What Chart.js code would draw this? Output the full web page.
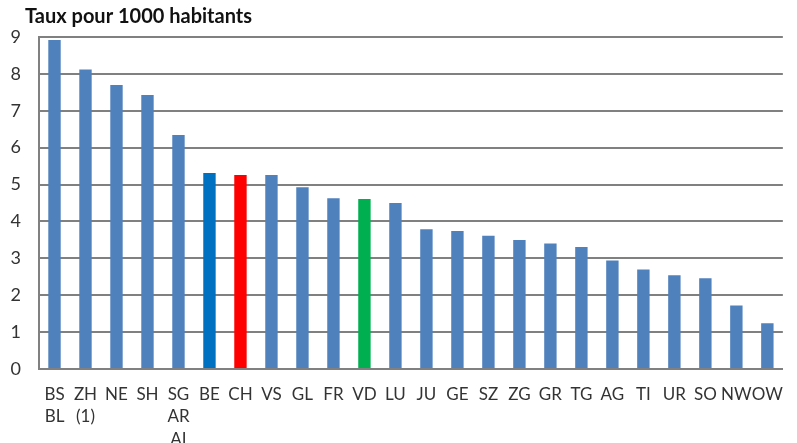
<!DOCTYPE html>
<html>
<head>
<meta charset="utf-8">
<script src="https://cdn.jsdelivr.net/npm/chart.js@4"></script>
<style>
  html, body { margin: 0; padding: 0; background: #fff; overflow: hidden; }
  #box { width: 797px; height: 443px; }
</style>
</head>
<body>
<div id="box"><canvas id="taux"></canvas></div>
<script>
// cantons (multi-line labels as in the original)
const cantons = [["BS", "BL"], ["ZH", "(1)"], "NE", "SH", ["SG", "AR", "AI"], "BE", "CH", "VS", "GL", "FR", "VD", "LU",
  "JU", "GE", "SZ", "ZG", "GR", "TG", "AG", "TI", "UR", "SO", "NW", "OW"];
const taux = [8.92, 8.12, 7.70, 7.43, 6.34, 5.31, 5.26, 5.26, 4.93, 4.63, 4.61, 4.50,
  3.79, 3.74, 3.61, 3.50, 3.40, 3.31, 2.94, 2.70, 2.54, 2.46, 1.72, 1.24];
const yTicks = [0, 1, 2, 3, 4, 5, 6, 7, 8, 9];

const blue = "#4f81bd";
// highlighted bars
const couleurs = cantons.map(c => {
  if (c === "BE") return "#0070c0";
  if (c === "CH") return "#ff0000";
  if (c === "VD") return "#00b050";
  return blue;
});

// title sits a bit right of the canvas edge
const titleShift = {
  id: "titleShift",
  afterLayout: c => { if (c.titleBlock) c.titleBlock.left = 25; }
};

const ctx = document.getElementById("taux").getContext("2d");
const chart = new Chart(ctx, {
  type: "bar",
  data: {
    labels: cantons,
    datasets: [{
      label: "Taux pour 1000 habitants",
      data: taux,
      backgroundColor: couleurs,
      barPercentage: 0.8,
      categoryPercentage: 0.5
    }]
  },
  plugins: [titleShift],
  options: {
    responsive: true,
    maintainAspectRatio: false,
    animation: false,
    layout: { padding: { left: 0, right: 6, top: 0, bottom: 0 } },
    plugins: {
      legend: { display: false },
      tooltip: { enabled: false },
      title: {
        display: true,
        text: "Taux pour 1000 habitants",
        align: "start",
        color: "#111",
        font: { family: "Lato", size: 20, weight: "bold" },
        padding: { top: 5, bottom: 8 }
      }
    },
    scales: {
      x: {
        grid: { display: false, drawTicks: false },
        border: { display: true, color: "#808080", width: 2 },
        ticks: {
          color: "#333",
          font: { family: "Lato", size: 17, lineHeight: 1.32 },
          padding: 14,
          maxRotation: 0,
          autoSkip: false
        },
        afterFit: s => { s.height = 74; }
      },
      y: {
        min: 0,
        max: 9,
        afterBuildTicks: s => { s.ticks = yTicks.map(v => ({ value: v })); },
        grid: { color: "#808080", lineWidth: 2, drawTicks: false },
        border: { display: true, color: "#808080", width: 2 },
        ticks: {
          color: "#333",
          font: { family: "Lato", size: 18 },
          padding: 18
        },
        afterFit: s => { s.width = 39; }
      }
    }
  }
});
</script>
</body>
</html>
